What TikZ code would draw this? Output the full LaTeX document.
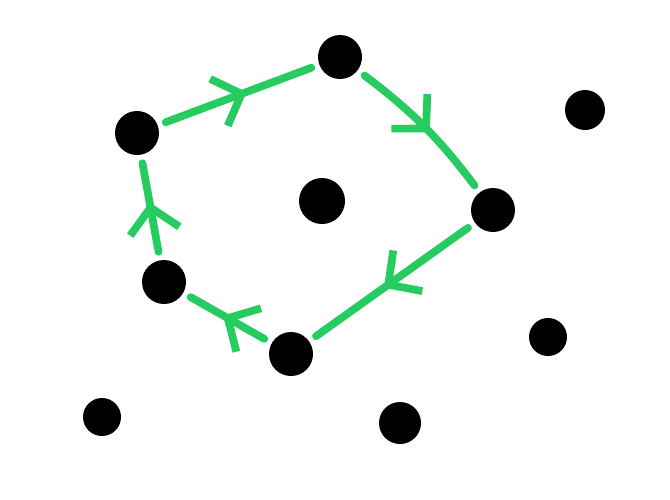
\documentclass[tikz,border=0pt]{standalone}
\usetikzlibrary{arrows.meta,decorations.markings}
\definecolor{markergreen}{RGB}{38,204,96}
\tikzset{
  dot/.style={circle,fill=black,minimum size=0.44cm,inner sep=0pt},
  link/.style={draw=markergreen,line width=2.2pt,line cap=round,
    shorten <=0.08cm,shorten >=0.08cm,postaction={decorate},
    decoration={markings,mark=at position 0.55 with {\arrow{Straight Barb[length=2.4mm,width=5mm,line width=2.2pt]}}}}
}
\begin{document}
\begin{tikzpicture}
    \fill[white] (0,0) rectangle (6.7,-4.99);
    \useasboundingbox (0,0) rectangle (6.7,-4.99);
    % dots
    \node[dot] (A) at (3.40,-0.57) {};
    \node[dot] (B) at (1.37,-1.33) {};
    \node[dot,minimum size=0.40cm] (C) at (5.85,-1.10) {};
    \node[dot,minimum size=0.46cm] (D) at (3.22,-2.01) {};
    \node[dot] (E) at (4.93,-2.10) {};
    \node[dot] (F) at (1.64,-2.82) {};
    \node[dot,minimum size=0.38cm] (G) at (5.48,-3.37) {};
    \node[dot] (H) at (2.91,-3.54) {};
    \node[dot,minimum size=0.38cm] (I) at (1.02,-4.17) {};
    \node[dot,minimum size=0.42cm] (J) at (4.00,-4.23) {};
    % cycle
    \draw[link] (B) -- (A);
    \draw[link] (A) to[bend left=8] (E);
    \draw[link] (E) -- (H);
    \draw[link] (H) -- (F);
    \draw[link] (F) -- (B);
\end{tikzpicture}
\end{document}
